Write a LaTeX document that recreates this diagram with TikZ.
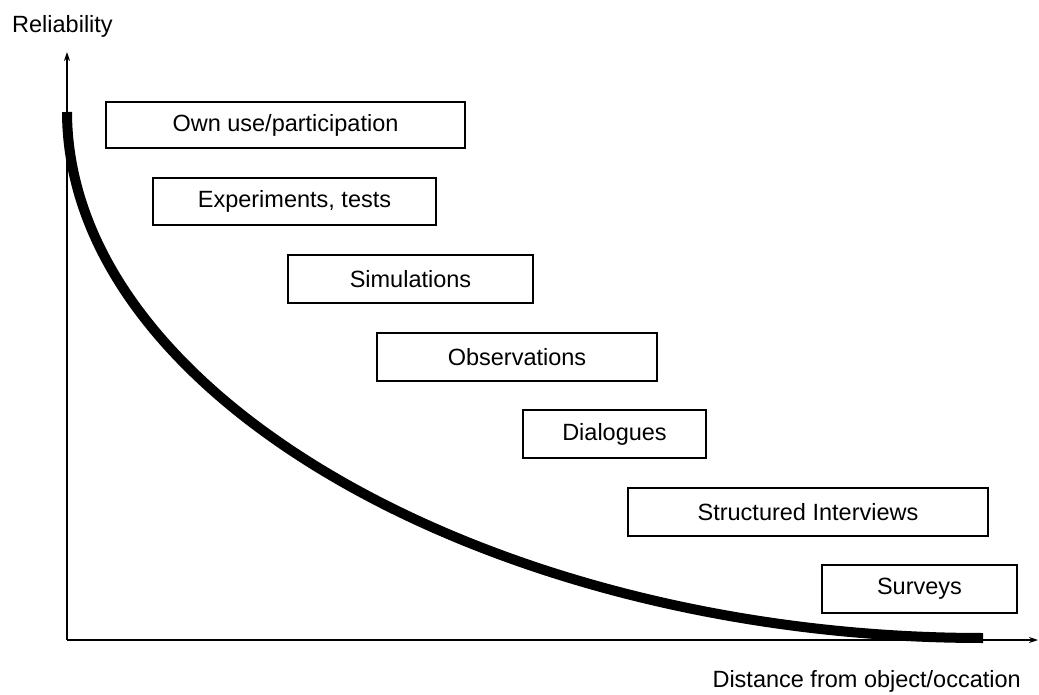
\documentclass[tikz,border=0pt]{standalone}
\usepackage{fontspec}
\setmainfont{Liberation Sans}
\usetikzlibrary{arrows.meta}
\begin{document}
\begin{tikzpicture}[x=1pt,y=-1pt,
  box/.style={draw, line width=1.2pt, inner sep=0pt, font=\fontsize{23.5}{27}\selectfont},
  axis/.style={line width=1.6pt, -{Stealth[length=9pt,width=6pt]}},
  lbl/.style={inner sep=0pt, font=\fontsize{23.5}{27}\selectfont}]
\useasboundingbox (0,0) rectangle (1039,695);
\coordinate (O) at (67,640);
\coordinate (ytip) at (67,52);
\coordinate (xtip) at (1038,640);
\coordinate (cs) at (67,112);
\coordinate (ce) at (983,638);
\draw[axis] (O) -- (ytip);
\draw[axis] (O) -- (xtip);
\node[lbl, anchor=base west] (ylab) at (12,33) {Reliability};
\node[lbl, anchor=base east] (xlab) at (1021,687) {Distance from object/occation};
\node[box, minimum width=359pt, minimum height=46pt] (b1) at (285.5,125) {Own use/participation};
\node[box, minimum width=283pt, minimum height=47pt] (b2) at (294.5,201.5) {Experiments, tests};
\node[box, minimum width=245pt, minimum height=48pt] (b3) at (410.5,279) {Simulations};
\node[box, minimum width=280pt, minimum height=48pt] (b4) at (517,357) {Observations};
\node[box, minimum width=183pt, minimum height=48pt] (b5) at (614.5,434) {Dialogues};
\node[box, minimum width=360pt, minimum height=48pt] (b6) at (808,512) {Structured Interviews};
\node[box, minimum width=195pt, minimum height=48pt] (b7) at (919.5,589) {Surveys};
\draw[line width=10pt] (cs) .. controls (68,400) and (500,638) .. (ce);
\end{tikzpicture}
\end{document}
